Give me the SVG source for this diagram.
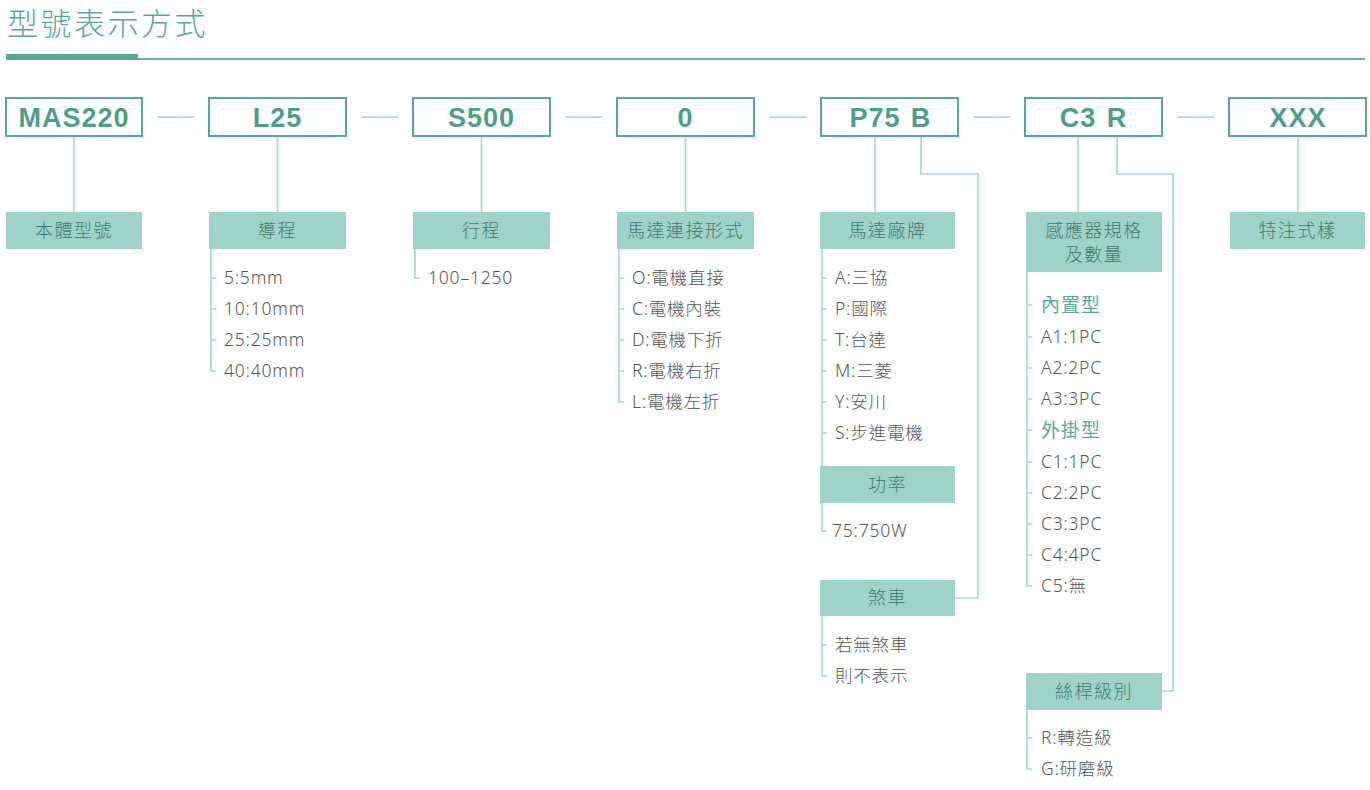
<svg xmlns="http://www.w3.org/2000/svg" width="1370" height="790" viewBox="0 0 1370 790">
<style>
.box{fill:#fff;stroke:#5aa894;stroke-width:2}
.lbl{fill:#9fd3c7}
.code{font-family:"Liberation Sans",Arial,sans-serif;font-weight:bold;font-size:27px;fill:#4f9e89;letter-spacing:1px;text-anchor:middle}
.lt{font-family:"Noto Sans","Noto Sans CJK TC",sans-serif;font-weight:300;font-size:18px;fill:#457a6d;letter-spacing:1.5px;text-anchor:middle}
.it{font-family:"Noto Sans","Noto Sans CJK TC",sans-serif;font-weight:300;font-size:17.5px;fill:#555;letter-spacing:0.8px}
.grp{font-family:"Noto Sans CJK TC",sans-serif;font-size:19px;fill:#5aa894;letter-spacing:1px}
.ln{stroke:#a6d8cb;stroke-width:1.6;fill:none}
.title{font-family:"Noto Sans CJK TC",sans-serif;font-weight:300;font-size:31px;fill:#5aa894;letter-spacing:2.5px}
</style>
<g id="title">
<text class="title" x="7" y="35">型號表示方式</text>
<rect x="6" y="54" width="132" height="6" fill="#5aa894"/>
<line x1="138" y1="59" x2="1365" y2="59" stroke="#6bb09e" stroke-width="2"/>
</g>
<g id="connectors">
<path class="ln" d="M157 117H195M361 117H399M565 117H603M769 117H807M973 117H1011M1177 117H1215"/>
<path class="ln" d="M74 136V212M277.5 136V212M481.5 136V212M685.5 136V212M875 136V212M1078 136V212M1298 136V212"/>
<path class="ln" d="M921 136V174H978V598H955"/>
<path class="ln" d="M1117 136V174H1173V691H1162"/>
<path class="ln" d="M211 249V371H216M211 278H216M211 309H216M211 340H216"/>
<path class="ln" d="M415 249V278H420"/>
<path class="ln" d="M619 249V402H624M619 278H624M619 309H624M619 340H624M619 371H624"/>
<path class="ln" d="M822 249V466M822 278H827M822 309H827M822 340H827M822 371H827M822 402H827M822 433H827"/>
<path class="ln" d="M822 503V531H827"/>
<path class="ln" d="M822 616V676H827M822 645H827"/>
<path class="ln" d="M1027 272V586H1032M1027 305H1032M1027 337H1032M1027 368H1032M1027 399H1032M1027 430H1032M1027 462H1032M1027 493H1032M1027 524H1032M1027 555H1032"/>
<path class="ln" d="M1027 710V769H1032M1027 738H1032"/>
</g>
<g id="node-mas220">
<rect class="box" x="6" y="98" width="136" height="38"/>
<text class="code" x="74" y="127">MAS220</text>
</g>
<g id="node-l25">
<rect class="box" x="209" y="98" width="137" height="38"/>
<text class="code" x="277.5" y="127">L25</text>
</g>
<g id="node-s500">
<rect class="box" x="413" y="98" width="137" height="38"/>
<text class="code" x="481.5" y="127">S500</text>
</g>
<g id="node-0">
<rect class="box" x="617" y="98" width="137" height="38"/>
<text class="code" x="685.5" y="127">0</text>
</g>
<g id="node-p75b">
<rect class="box" x="821" y="98" width="137" height="38"/>
<text class="code" y="127"><tspan x="875">P75</tspan><tspan x="921">B</tspan></text>
</g>
<g id="node-c3r">
<rect class="box" x="1025" y="98" width="137" height="38"/>
<text class="code" y="127"><tspan x="1078">C3</tspan><tspan x="1117">R</tspan></text>
</g>
<g id="node-xxx">
<rect class="box" x="1229" y="98" width="137" height="38"/>
<text class="code" x="1298" y="127">XXX</text>
</g>
<g id="label-body">
<rect class="lbl" x="6" y="212" width="136" height="37"/>
<text class="lt" x="74" y="237">本體型號</text>
</g>
<g id="label-lead">
<rect class="lbl" x="209" y="212" width="137" height="37"/>
<text class="lt" x="277.5" y="237">導程</text>
<text class="it" x="224" y="284">5:5mm</text>
<text class="it" x="224" y="315">10:10mm</text>
<text class="it" x="224" y="346">25:25mm</text>
<text class="it" x="224" y="377">40:40mm</text>
</g>
<g id="label-stroke">
<rect class="lbl" x="413" y="212" width="137" height="37"/>
<text class="lt" x="481.5" y="237">行程</text>
<text class="it" x="428" y="284">100–1250</text>
</g>
<g id="label-motorconn">
<rect class="lbl" x="617" y="212" width="137" height="37"/>
<text class="lt" x="685.5" y="237">馬達連接形式</text>
<text class="it" x="632" y="284">O:電機直接</text>
<text class="it" x="632" y="315">C:電機內裝</text>
<text class="it" x="632" y="346">D:電機下折</text>
<text class="it" x="632" y="377">R:電機右折</text>
<text class="it" x="632" y="408">L:電機左折</text>
</g>
<g id="label-brand">
<rect class="lbl" x="820" y="212" width="135" height="37"/>
<text class="lt" x="887.5" y="237">馬達廠牌</text>
<text class="it" x="835" y="284">A:三協</text>
<text class="it" x="835" y="315">P:國際</text>
<text class="it" x="835" y="346">T:台達</text>
<text class="it" x="835" y="377">M:三菱</text>
<text class="it" x="835" y="408">Y:安川</text>
<text class="it" x="835" y="439">S:步進電機</text>
</g>
<g id="label-power">
<rect class="lbl" x="820" y="466" width="135" height="37"/>
<text class="lt" x="887.5" y="491">功率</text>
<text class="it" x="832" y="537">75:750W</text>
</g>
<g id="label-brake">
<rect class="lbl" x="820" y="580" width="135" height="36"/>
<text class="lt" x="887.5" y="604">煞車</text>
<text class="it" x="835" y="651">若無煞車</text>
<text class="it" x="835" y="682">則不表示</text>
</g>
<g id="label-sensor">
<rect class="lbl" x="1026" y="212" width="136" height="60"/>
<text class="lt" x="1094" y="237">感應器規格</text>
<text class="lt" x="1094" y="261">及數量</text>
<text class="grp" x="1041" y="312">內置型</text>
<text class="it" x="1041" y="343">A1:1PC</text>
<text class="it" x="1041" y="374">A2:2PC</text>
<text class="it" x="1041" y="405">A3:3PC</text>
<text class="grp" x="1041" y="437">外掛型</text>
<text class="it" x="1041" y="468">C1:1PC</text>
<text class="it" x="1041" y="499">C2:2PC</text>
<text class="it" x="1041" y="530">C3:3PC</text>
<text class="it" x="1041" y="561">C4:4PC</text>
<text class="it" x="1041" y="592">C5:無</text>
</g>
<g id="label-screw">
<rect class="lbl" x="1026" y="673" width="136" height="37"/>
<text class="lt" x="1094" y="698">絲桿級別</text>
<text class="it" x="1041" y="744">R:轉造級</text>
<text class="it" x="1041" y="775">G:研磨級</text>
</g>
<g id="label-special">
<rect class="lbl" x="1230" y="212" width="135" height="37"/>
<text class="lt" x="1297.5" y="237">特注式樣</text>
</g>
</svg>
